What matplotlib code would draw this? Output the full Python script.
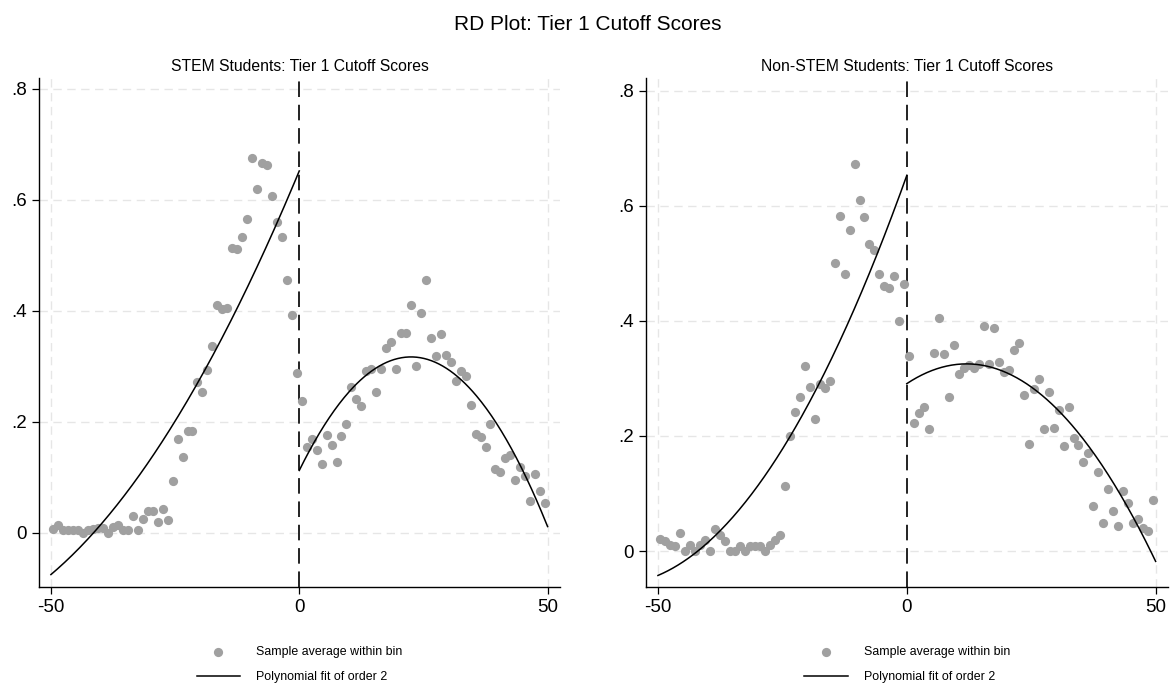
import numpy as np
import matplotlib
matplotlib.use("Agg")
import matplotlib.pyplot as plt
from numpy.polynomial import polynomial as P

plt.rcParams["font.family"] = ["Liberation Sans", "DejaVu Sans"]

# bin centres (width-1 bins either side of the cutoff)
bins_left = np.arange(-49.5, 0, 1.0)
bins_right = np.arange(0.5, 50, 1.0)

# STEM students: sample averages within bin
stem_left = [
    0.007, 0.014, 0.005, 0.005, 0.005, 0.006, 0.000, 0.005, 0.007, 0.008,
    0.008, 0.000, 0.011, 0.014, 0.006, 0.005, 0.031, 0.006, 0.025, 0.039,
    0.039, 0.020, 0.044, 0.023, 0.094, 0.169, 0.137, 0.184, 0.184, 0.271,
    0.253, 0.294, 0.336, 0.411, 0.404, 0.405, 0.514, 0.512, 0.533, 0.566,
    0.675, 0.620, 0.666, 0.663, 0.606, 0.560, 0.533, 0.455, 0.392, 0.288,
]
stem_right = [
    0.238, 0.155, 0.170, 0.149, 0.125, 0.176, 0.158, 0.128, 0.174, 0.197,
    0.262, 0.242, 0.229, 0.291, 0.295, 0.253, 0.296, 0.333, 0.344, 0.295,
    0.361, 0.360, 0.410, 0.300, 0.397, 0.456, 0.351, 0.319, 0.358, 0.321,
    0.308, 0.274, 0.292, 0.283, 0.230, 0.179, 0.173, 0.155, 0.196, 0.116,
    0.110, 0.135, 0.140, 0.096, 0.119, 0.103, 0.058, 0.106, 0.076, 0.054,
]

# Non-STEM students: sample averages within bin
nonstem_left = [
    0.021, 0.017, 0.010, 0.009, 0.031, 0.000, 0.010, 0.000, 0.010, 0.019,
    0.000, 0.039, 0.028, 0.017, 0.000, 0.000, 0.009, 0.000, 0.009, 0.009,
    0.009, 0.000, 0.010, 0.019, 0.028, 0.113, 0.200, 0.242, 0.267, 0.322,
    0.285, 0.229, 0.290, 0.284, 0.296, 0.500, 0.582, 0.482, 0.559, 0.673,
    0.611, 0.580, 0.533, 0.523, 0.481, 0.460, 0.457, 0.478, 0.400, 0.464,
]
nonstem_right = [
    0.339, 0.223, 0.240, 0.250, 0.213, 0.344, 0.406, 0.343, 0.267, 0.359,
    0.307, 0.319, 0.323, 0.319, 0.326, 0.391, 0.326, 0.388, 0.328, 0.312,
    0.315, 0.350, 0.362, 0.272, 0.186, 0.282, 0.299, 0.212, 0.277, 0.214,
    0.245, 0.183, 0.250, 0.197, 0.184, 0.155, 0.171, 0.079, 0.137, 0.049,
    0.108, 0.070, 0.043, 0.104, 0.083, 0.049, 0.055, 0.040, 0.035, 0.088,
]

# order-2 polynomial fits, coefficients (const, x, x^2)
stem_fit_left = [0.652, 0.02151, 0.0001394]
stem_fit_right = [0.1125, 0.01818, -0.000404]
nonstem_fit_left = [0.653, 0.02416, 0.000205]
nonstem_fit_right = [0.291, 0.00572, -0.000238]

y_ticks = [0, 0.2, 0.4, 0.6, 0.8]
y_tick_labels = ["0", ".2", ".4", ".6", ".8"]
x_ticks = [-50, 0, 50]
x_tick_labels = ["-50", "0", "50"]

DOT = "#a0a0a0"
GRID = "#e6e6e6"


def rd_panel(ax, title, left, right, fit_left, fit_right, ylim):
    ax.set_xlim(-52.4, 52.5)
    ax.set_ylim(*ylim)

    # light dashed grid at tick positions
    for y in y_ticks:
        ax.axhline(y, color=GRID, lw=1.0, ls=(0, (6, 4)), zorder=0)
    for x in (-50, 50):
        ax.axvline(x, color=GRID, lw=1.0, ls=(0, (6, 4)), zorder=0)

    dots = ax.scatter(bins_left, left, s=44, color=DOT, lw=0, zorder=2)
    ax.scatter(bins_right, right, s=44, color=DOT, lw=0, zorder=2)

    xl = np.linspace(-50, 0, 200)
    xr = np.linspace(0, 50, 200)
    (fit,) = ax.plot(xl, P.polyval(xl, fit_left), color="black", lw=1.1, zorder=3)
    ax.plot(xr, P.polyval(xr, fit_right), color="black", lw=1.1, zorder=3)

    ax.axvline(0, color="#222222", lw=1.4, ls=(0, (8, 4)), zorder=1)

    ax.set_xticks(x_ticks)
    ax.set_xticklabels(x_tick_labels)
    ax.set_yticks(y_ticks)
    ax.set_yticklabels(y_tick_labels)
    ax.tick_params(axis="both", length=5, width=0.9, labelsize=13.5, pad=4)

    for side in ("top", "right"):
        ax.spines[side].set_visible(False)
    for side in ("left", "bottom"):
        ax.spines[side].set_linewidth(1.0)

    ax.set_title(title, fontsize=11.3, pad=5)

    ax.legend(
        handles=(dots, fit),
        labels=("Sample average within bin", "Polynomial fit of order 2"),
        loc="upper center",
        bbox_to_anchor=(0.5, -0.095),
        frameon=False,
        fontsize=8.9,
        handlelength=3.5,
        handletextpad=1.3,
        labelspacing=1.05,
        scatterpoints=1,
    )


fig = plt.figure(figsize=(11.75, 6.98), dpi=100)
ax1 = fig.add_axes([0.0332, 0.1595, 0.4434, 0.7292])
ax2 = fig.add_axes([0.5498, 0.1595, 0.4443, 0.7292])

rd_panel(ax1, "STEM Students: Tier 1 Cutoff Scores",
         stem_left, stem_right, stem_fit_left, stem_fit_right, (-0.0968, 0.820))
rd_panel(ax2, "Non-STEM Students: Tier 1 Cutoff Scores",
         nonstem_left, nonstem_right, nonstem_fit_left, nonstem_fit_right, (-0.062, 0.823))

fig.suptitle("RD Plot: Tier 1 Cutoff Scores", fontsize=15, y=0.978)

fig.savefig("out.png", dpi=100)
